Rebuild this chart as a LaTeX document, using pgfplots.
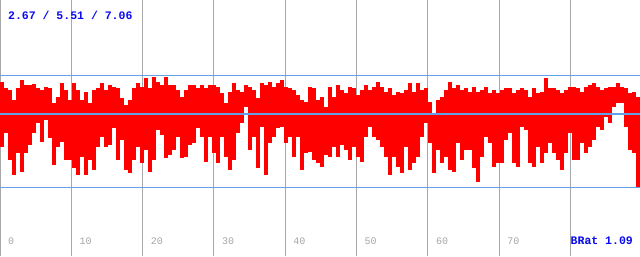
\documentclass[border=0pt]{standalone}
\usepackage{fontspec}
\usepackage{pgfplots}
\usepackage{pgfplotstable}
\pgfplotsset{compat=1.18}
\newfontfamily\monof{Liberation Mono}
\definecolor{gridgrey}{RGB}{168,168,168}
\definecolor{lineblue}{RGB}{100,160,232}
\definecolor{labgrey}{RGB}{165,165,165}
\definecolor{txtblue}{RGB}{10,10,240}

% x = pixel column centre, t = top of bar, b = bottom of bar (screen units, downwards)
\pgfplotstableread{
x t b
2 82 147
6 88 133
10 90 160
14 100 175
18 88 153
22 80 172
26 85 153
30 85 145
34 84 133
38 88 123
42 90 142
46 87 120
50 88 138
54 103 165
58 97 147
62 83 142
66 90 160
70 100 160
74 83 168
78 90 175
82 100 157
86 92 175
90 103 160
94 90 170
98 88 147
102 83 137
106 90 147
110 85 145
114 87 128
118 88 160
122 98 140
126 105 170
130 100 173
134 88 160
138 83 147
142 87 163
146 78 150
150 88 172
154 77 160
158 82 130
162 85 135
166 77 158
170 85 155
174 85 150
178 90 137
182 97 158
186 90 157
190 85 145
194 85 143
198 88 128
202 85 137
206 88 162
210 85 137
214 85 153
218 87 163
222 93 137
226 103 157
230 92 170
234 83 160
238 90 133
242 92 123
246 85 107
250 87 150
254 90 137
258 98 168
262 83 127
266 85 175
270 82 143
274 87 137
278 83 128
282 80 127
286 87 143
290 88 137
294 90 157
298 95 137
302 100 170
306 102 153
310 87 152
314 88 160
318 100 163
322 97 167
326 107 155
330 87 157
334 97 147
338 85 157
342 90 145
346 93 150
350 87 160
354 88 147
358 95 157
362 90 162
366 85 137
370 90 127
374 87 137
378 82 140
382 87 147
386 92 157
390 88 175
394 95 157
398 92 167
402 93 173
406 90 147
410 83 170
414 92 163
418 83 157
422 90 137
426 88 123
430 102 143
434 113 173
438 100 150
442 97 163
446 90 157
450 82 170
454 88 172
458 85 143
462 90 160
466 88 150
470 92 150
474 87 168
478 92 182
482 90 157
486 87 137
490 93 143
494 90 167
498 93 163
502 90 163
506 88 140
510 88 133
514 93 163
518 90 167
522 88 127
526 90 130
530 97 163
534 88 167
538 93 147
542 92 163
546 78 153
550 88 143
554 88 153
558 90 160
562 93 170
566 90 153
570 87 133
574 87 160
578 88 160
582 92 143
586 87 153
590 85 147
594 83 140
598 87 127
602 90 130
606 88 117
610 87 123
614 87 107
618 83 103
622 87 103
626 88 127
630 93 150
634 92 153
638 97 187
}\bars

\begin{document}
\begin{tikzpicture}
\begin{axis}[
  scale only axis, width=640bp, height=256bp,
  xmin=0, xmax=640, ymin=0, ymax=256, y dir=reverse,
  axis line style={draw=none},
  xtick={0.5,71.3,142.6,213.9,285.2,356.5,427.8,499.1,570.4},
  xticklabels={}, ytick=\empty,
  major tick length=0pt,
  xmajorgrids, grid style={gridgrey, line width=1bp},
  clip=true,
]
\addplot[draw=none, mark=none, forget plot,
  error bars/.cd, y dir=both, y explicit, error mark=none,
  error bar style={draw=red, line width=4.2bp, line cap=butt}]
  table[x=x, y expr={(\thisrow{t}+\thisrow{b})/2}, y error expr={(\thisrow{b}-\thisrow{t})/2}] {\bars};
\addplot[lineblue, line width=1.3bp, forget plot] coordinates {(0,75.5) (640,75.5)};
\addplot[lineblue, line width=1.3bp, forget plot] coordinates {(0,114) (640,114)};
\addplot[lineblue, line width=1.3bp, forget plot] coordinates {(0,187.5) (640,187.5)};

\node[anchor=base west, inner sep=0, text=txtblue, font=\monof\bfseries\fontsize{11.5bp}{12bp}\selectfont] at (axis cs:8,19.5) {2.67 / 5.51 / 7.06};
\tikzset{tl/.style={anchor=base west, inner sep=0, text=labgrey, font=\monof\fontsize{10bp}{11bp}\selectfont}}
\node[tl] at (axis cs:8,244) {0};
\node[tl] at (axis cs:79.3,244) {10};
\node[tl] at (axis cs:150.6,244) {20};
\node[tl] at (axis cs:221.9,244) {30};
\node[tl] at (axis cs:293.2,244) {40};
\node[tl] at (axis cs:364.5,244) {50};
\node[tl] at (axis cs:435.8,244) {60};
\node[tl] at (axis cs:507.1,244) {70};
\node[tl] at (axis cs:578.4,244) {80};
\node[anchor=base east, inner sep=0, text=txtblue, font=\monof\bfseries\fontsize{11.5bp}{12bp}\selectfont] at (axis cs:633,244) {BRat 1.09};
\end{axis}
\pgfresetboundingbox
\path[use as bounding box] (current axis.south west) rectangle (current axis.north east);
\end{tikzpicture}
\end{document}
